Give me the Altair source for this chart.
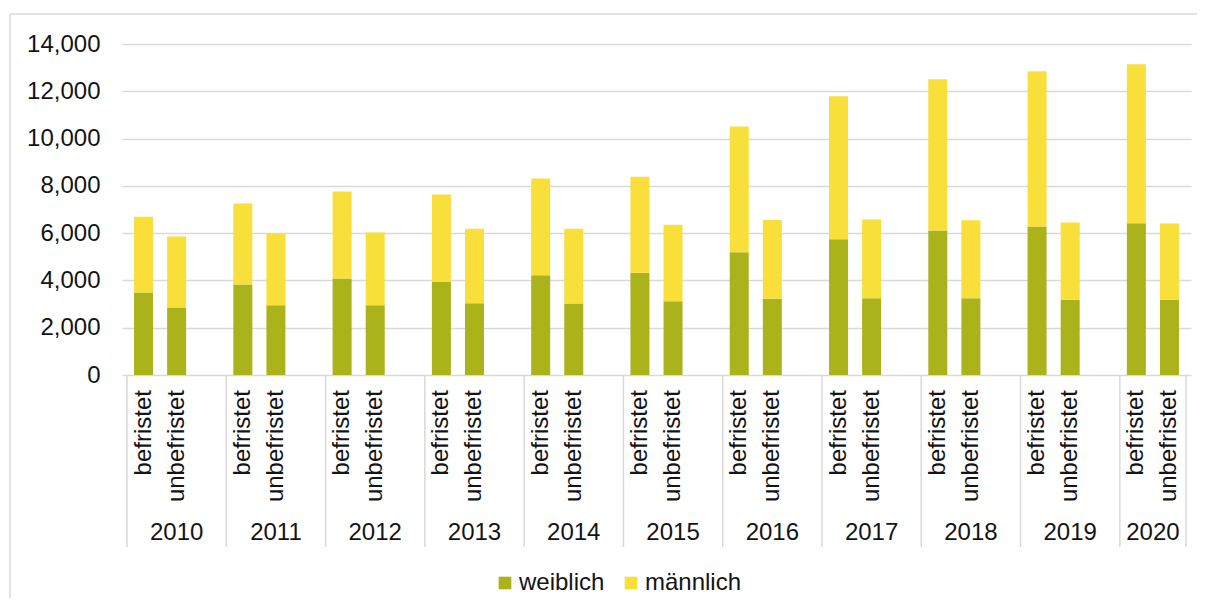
import altair as alt
import pandas as pd

years = [2010, 2011, 2012, 2013, 2014, 2015, 2016, 2017, 2018, 2019, 2020]
types = ["befristet", "unbefristet"]
genders = ["weiblich", "männlich"]
colors = ["#AAB31A", "#F8DF3A"]

bef_weiblich = [3490, 3830, 4080, 3940, 4220, 4330, 5190, 5740, 6110, 6280, 6420]
bef_maennlich = [3200, 3420, 3680, 3690, 4090, 4060, 5320, 6050, 6400, 6570, 6720]
unbef_weiblich = [2850, 2950, 2950, 3040, 3020, 3120, 3220, 3250, 3250, 3180, 3180]
unbef_maennlich = [3010, 3020, 3080, 3150, 3170, 3240, 3340, 3330, 3300, 3270, 3230]

y_ticks = [0, 2000, 4000, 6000, 8000, 10000, 12000, 14000]

SLOTS_PER_YEAR = 3
n_slots = SLOTS_PER_YEAR * (len(years) - 1) + len(types)

series = {
    ("befristet", "weiblich"): bef_weiblich,
    ("befristet", "männlich"): bef_maennlich,
    ("unbefristet", "weiblich"): unbef_weiblich,
    ("unbefristet", "männlich"): unbef_maennlich,
}

rows = []
for i, yr in enumerate(years):
    for j, t in enumerate(types):
        for k, g in enumerate(genders):
            rows.append({"year": str(yr), "type": t, "gender": g, "order": k,
                         "slot": SLOTS_PER_YEAR * i + j + 0.5,
                         "value": series[(t, g)][i]})
bars_df = pd.DataFrame(rows)

label_rows = []
for i, yr in enumerate(years):
    for j, t in enumerate(types):
        label_rows.append({"slot": SLOTS_PER_YEAR * i + j + 0.5, "label": t})
labels_df = pd.DataFrame(label_rows)

year_rows = []
for i, yr in enumerate(years):
    start = SLOTS_PER_YEAR * i
    end = min(start + SLOTS_PER_YEAR, n_slots)
    year_rows.append({"center": (start + end) / 2, "year": str(yr)})
years_df = pd.DataFrame(year_rows)

bounds = [SLOTS_PER_YEAR * i for i in range(len(years))] + [n_slots]
bounds_df = pd.DataFrame({"b": bounds})

FONT = "Liberation Sans"
FS = 24
TXT = "#141414"
GRID = "#D9D9D9"

xscale = alt.Scale(domain=[0, n_slots], nice=False, zero=False)

bars = alt.Chart(bars_df).mark_bar(size=19).encode(
    x=alt.X("slot:Q", scale=xscale, axis=None),
    y=alt.Y("value:Q", stack="zero",
            scale=alt.Scale(domain=[0, 14000], nice=False),
            axis=alt.Axis(values=y_ticks, format=",.0f", title=None,
                          labelFontSize=FS, labelFont=FONT, labelColor=TXT,
                          labelPadding=22, ticks=False, domain=False,
                          gridColor=GRID, gridWidth=1.3)),
    color=alt.Color("gender:N", scale=alt.Scale(domain=genders, range=colors),
                    legend=alt.Legend(title=None, orient="none", direction="horizontal",
                                      legendX=371, legendY=527,
                                      symbolType="square", symbolSize=160,
                                      symbolStrokeWidth=0, symbolOpacity=1,
                                      labelFontSize=FS, labelFont=FONT, labelColor=TXT,
                                      labelOffset=2, columnPadding=14, padding=0)),
    order=alt.Order("order:Q"),
)

sub_labels = alt.Chart(labels_df).mark_text(
    angle=270, align="right", baseline="middle", fontSize=FS, font=FONT, color=TXT
).encode(
    x=alt.X("slot:Q", scale=xscale, axis=None),
    y=alt.value(346),
    text="label:N",
)

year_labels = alt.Chart(years_df).mark_text(
    align="center", baseline="middle", fontSize=FS, font=FONT, color=TXT
).encode(
    x=alt.X("center:Q", scale=xscale, axis=None),
    y=alt.value(489),
    text="year:N",
)

seps = alt.Chart(bounds_df).mark_rule(color=GRID, strokeWidth=1.5).encode(
    x=alt.X("b:Q", scale=xscale, axis=None),
    y=alt.value(331),
    y2=alt.value(503),
)

border = alt.Chart(pd.DataFrame({"k": [0]})).mark_rect(
    fill=None, stroke=GRID, strokeWidth=1.5
).encode(
    x=alt.value(-112), x2=alt.value(1300),
    y=alt.value(-30), y2=alt.value(800),
)

chart = alt.layer(border, bars, seps, sub_labels, year_labels).properties(
    width=1069, height=331,
    autosize=alt.AutoSizeParams(type="none"),
    padding={"left": 114, "top": 36, "right": 6, "bottom": 223},
    background="white",
).configure_view(stroke=None)

chart.save("out.html", embed_options={"renderer": "svg", "actions": False})
